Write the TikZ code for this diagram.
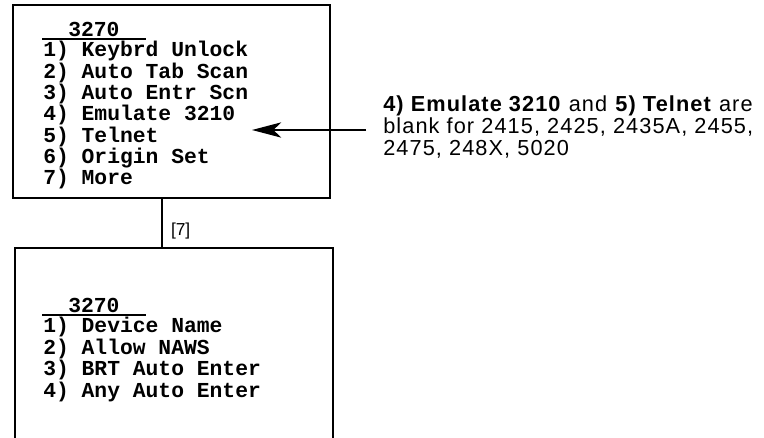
\documentclass[tikz,border=0pt]{standalone}
\usepackage{fontspec}
\setmainfont{Liberation Sans}
\newfontfamily\menufont{Liberation Mono}
\newfontfamily\notefont[LetterSpace=5]{Liberation Sans}
\usetikzlibrary{arrows.meta}
\begin{document}
\begin{tikzpicture}[x=0.75pt,y=-0.75pt,
  menubox/.style={draw,line width=1.5pt,inner sep=0pt,anchor=north west},
  menu/.style={inner sep=0pt,anchor=base west,font=\menufont\bfseries\fontsize{16}{16}\selectfont},
  rule/.style={line width=1.5pt},
  conn/.style={line width=1.5pt},
  arr/.style={line width=1.3pt,-{Stealth[length=22pt,width=11.5pt,inset=6pt]}},
  note/.style={inner sep=0pt,anchor=north west,align=left,font=\notefont\fontsize{16.3}{16.5}\selectfont},
  lab/.style={inner sep=0pt,anchor=west,font=\fontsize{13}{15}\selectfont}]
\useasboundingbox (0,0) rectangle (764,438);
\clip (0,0) rectangle (764,438);
% boxes
\node[menubox,minimum width=237.75pt,minimum height=144.75pt] (top) at (12,4) {};
\node[menubox,minimum width=238.5pt,minimum height=170pt] (bot) at (14,247) {};
% top menu
\node[menu] (t0) at (68,36.5) {3270};
\coordinate (u1a) at (42,39);
\coordinate (u1b) at (146,39);
\draw[rule] (u1a) -- (u1b);
\node[menu] (t1) at (43,57) {1) Keybrd Unlock};
\node[menu] (t2) at (43,78.3) {2) Auto Tab Scan};
\node[menu] (t3) at (43,99.7) {3) Auto Entr Scn};
\node[menu] (t4) at (43,121) {4) Emulate 3210};
\node[menu] (t5) at (43,142.3) {5) Telnet};
\node[menu] (t6) at (43,163.7) {6) Origin Set};
\node[menu] (t7) at (43,185) {7) More};
% bottom menu
\node[menu] (b0) at (68,312.5) {3270};
\coordinate (u2a) at (42,315);
\coordinate (u2b) at (146,315);
\draw[rule] (u2a) -- (u2b);
\node[menu] (b1) at (43,333) {1) Device Name};
\node[menu] (b2) at (43,354.3) {2) Allow NAWS};
\node[menu] (b3) at (43,375.7) {3) BRT Auto Enter};
\node[menu] (b4) at (43,397) {4) Any Auto Enter};
% connector
\coordinate (c) at (162,0);
\draw[conn] (top.south -| c) -- (bot.north -| c)
  node[lab,pos=0.66,xshift=6pt] (k7) {[7]};
% note and arrow
\node[note] (nt) at (383,95) {\textbf{4) Emulate 3210} and \textbf{5) Telnet} are\\
blank for 2415, 2425, 2435A, 2455,\\
2475, 248X, 5020};
\coordinate (atail) at (366,130);
\coordinate (atip) at (252,130);
\draw[arr] (atail) -- (atip);
\end{tikzpicture}
\end{document}
